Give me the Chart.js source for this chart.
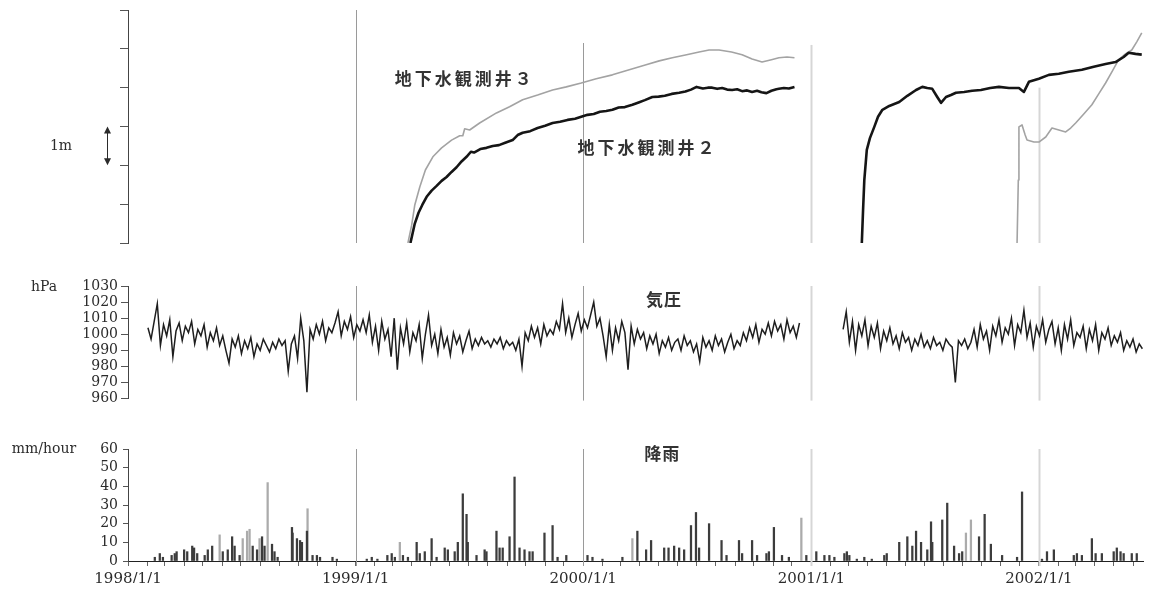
<!DOCTYPE html>
<html lang="ja">
<head>
<meta charset="utf-8">
<title>地下水位・気圧・降雨</title>
<script src="https://cdn.jsdelivr.net/npm/chart.js@4.4.1/dist/chart.umd.min.js"></script>
<style>
  html, body { margin: 0; padding: 0; background: #fff; }
  #wrap { position: relative; width: 1151px; height: 591px; overflow: hidden; }
  #wrap canvas { position: absolute; left: 0; }
</style>
</head>
<body>
<div id="wrap">
  <canvas id="well-chart" width="1151" height="255" style="top:0"></canvas>
  <canvas id="pressure-chart" width="1151" height="140" style="top:270px"></canvas>
  <canvas id="rain-chart" width="1151" height="161" style="top:430px"></canvas>
</div>
<script>
// ============================================
// DATA  (x = days since 1998/1/1)
// ============================================
const X_MIN = 0;
const X_MAX = 1628;
const yearDays = [0, 365, 730, 1096, 1461];
const yearLabels = ['1998/1/1', '1999/1/1', '2000/1/1', '2001/1/1', '2002/1/1'];

const levelTicks = [0, 1, 2, 3, 4, 5, 6];
const hpaTicks = [960, 970, 980, 990, 1000, 1010, 1020, 1030];
const rainTicks = [0, 10, 20, 30, 40, 50, 60];

// groundwater well 2 (metres above an arbitrary datum, null = no record)
const well2Days = [453, 460, 466, 472, 479, 487, 495, 503, 511, 519, 527, 535, 543, 550, 555, 565, 575, 585, 595, 605,
  617, 625, 633, 645, 657, 669, 681, 693, 705, 717, 727, 737, 747, 757, 767, 777, 787, 797, 809, 819,
  829, 841, 851, 861, 872, 884, 894, 903, 912, 922, 930, 937, 945, 953, 961, 969, 977, 985, 993, 1001,
  1009, 1016, 1024, 1032, 1040, 1044, 1052, 1060, 1069,
  1120,
  1177, 1179, 1181, 1185, 1190, 1197, 1203, 1210, 1221, 1237, 1250, 1264, 1274, 1282, 1290, 1298, 1304, 1312, 1320, 1328,
  1341, 1354, 1368, 1383, 1397, 1413, 1429, 1437, 1445, 1461, 1477, 1493, 1509, 1530, 1549, 1568, 1584, 1597, 1605, 1616, 1626];
const well2Level = [0, 0.5, 0.78, 0.98, 1.19, 1.35, 1.47, 1.6, 1.70, 1.83, 1.95, 2.1, 2.22, 2.35, 2.33, 2.42, 2.45, 2.5, 2.52, 2.58,
  2.65, 2.78, 2.84, 2.88, 2.96, 3.02, 3.09, 3.12, 3.17, 3.2, 3.25, 3.3, 3.32, 3.38, 3.4, 3.43, 3.49, 3.5, 3.56, 3.62,
  3.68, 3.76, 3.77, 3.79, 3.84, 3.87, 3.9, 3.95, 4.02, 3.98, 4.0, 4.0, 3.97, 3.99, 3.95, 3.94, 3.96, 3.91, 3.93, 3.89,
  3.92, 3.88, 3.86, 3.92, 3.96, 3.97, 3.99, 3.98, 4.02,
  null,
  0, 0.85, 1.62, 2.4, 2.7, 2.99, 3.25, 3.43, 3.53, 3.63, 3.79, 3.94, 4.02, 3.99, 3.97, 3.76, 3.61, 3.76, 3.81, 3.87,
  3.89, 3.92, 3.94, 3.99, 4.02, 3.99, 3.99, 3.89, 4.15, 4.23, 4.33, 4.36, 4.41, 4.46, 4.54, 4.61, 4.66, 4.79, 4.9, 4.87, 4.85];

// groundwater well 3
const well3Days = [449, 455, 460, 468, 477, 489, 503, 519, 532, 537, 540, 548, 564, 591, 612, 633, 657, 681, 703, 727,
  751, 777, 804, 831, 852, 873, 896, 916, 932, 948, 968, 985, 1001, 1017, 1032, 1044, 1057, 1069,
  1200,
  1426, 1428, 1429, 1434, 1439, 1442, 1453, 1461, 1472, 1482, 1493, 1504, 1512, 1520, 1533, 1546, 1557, 1568, 1579, 1589,
  1600, 1610, 1618, 1626];
const well3Level = [0, 0.46, 0.98, 1.44, 1.88, 2.22, 2.45, 2.65, 2.76, 2.76, 2.94, 2.91, 3.09, 3.35, 3.51, 3.69, 3.81, 3.94, 4.02, 4.12,
  4.23, 4.33, 4.46, 4.59, 4.69, 4.77, 4.85, 4.92, 4.97, 4.97, 4.92, 4.85, 4.74, 4.66, 4.72, 4.77, 4.79, 4.77,
  null,
  0, 1.62, 2.99, 3.04, 2.78, 2.65, 2.6, 2.6, 2.73, 2.96, 2.91, 2.86, 2.96, 3.09, 3.32, 3.56, 3.84, 4.12, 4.43, 4.72,
  4.87, 4.97, 5.18, 5.41];

// air pressure (hPa), one reading every 5 days from day 32
const pressureStart = 32;
const pressureStep = 5;
const pressureHpa = [
  1004, 997, 1008, 1019, 993, 1006, 999, 1009, 986, 1002,
  1007, 996, 1005, 1001, 1008, 994, 1003, 999, 1006, 992,
  1001, 996, 1004, 993, 999, 990, 982, 997, 992, 999,
  988, 996, 991, 998, 986, 994, 990, 997, 993, 989,
  995, 991, 997, 993, 996, 977, 994, 999, 985, 1010,
  996, 964, 1003, 997, 1006, 1000, 1008, 996, 1004, 1001,
  1007, 1014, 999, 1008, 1003, 1011, 998, 1006, 1002, 1009,
  1001, 1012, 995, 1005, 990, 1008, 997, 1003, 986, 1010,
  978, 1004, 994, 1007, 989, 1001, 996, 1006, 985, 1000,
  1012, 993, 1000, 988, 1003, 992, 998, 987, 1001, 994,
  999, 989, 996, 1002, 991, 997, 993, 998, 994, 996,
  992, 997, 994, 998, 991, 996, 993, 995, 990, 997,
  980, 1001, 996, 1005, 998, 1004, 994, 1006, 999, 1003,
  1000, 1008, 1003, 1019, 1001, 1010, 998, 1006, 1013, 1002,
  1009, 1004, 1012, 1020, 1005, 1010, 999, 986, 1006, 990,
  1004, 996, 1008, 1001, 978, 1005, 994, 1003, 997, 1001,
  991, 999, 994, 1000, 988, 996, 992, 998, 990, 995,
  997, 990, 999, 993, 996, 989, 994, 983, 998, 992,
  996, 990, 999, 993, 997, 989, 995, 1000, 991, 996,
  993, 1001, 996, 1004, 998, 1006, 995, 1003, 1000, 1007,
  999, 1008, 1002, 1006, 997, 1009, 1001, 1005, 998, 1007,
  null, null, null, null, null, null, null, null, null, null,
  null, null, null, 1003, 1014, 995, 1008, 990, 1006, 999,
  1009, 993, 1005, 998, 1007, 991, 1002, 996, 1004, 994,
  999, 991, 1001, 995, 998, 990, 997, 993, 1000, 992,
  996, 991, 998, 993, 995, 990, 997, 994, 992, 970,
  996, 993, 997, 991, 995, 1003, 992, 1006, 997, 1002,
  990, 1005, 999, 1009, 995, 1004, 1000, 1010, 993, 1006,
  1001, 1015, 998, 1007, 992, 1005, 999, 1009, 995, 1003,
  1008, 994, 1004, 990, 1006, 997, 1009, 993, 1001, 998,
  1005, 991, 1003, 996, 1006, 990, 1001, 997, 1004, 993,
  999, 995, 1001, 990, 996, 992, 997, 989, 994, 991
];

// rainfall (mm/hour) — dark bars
const rainDays = [43, 51, 56, 70, 75, 78, 90, 95, 103, 106, 111, 123, 128, 135, 152, 160, 167, 171, 179, 200,
  207, 215, 219, 231, 235, 240, 263, 264, 271, 276, 279, 287, 296, 303, 308, 328, 335,
  383, 391, 400, 416, 423, 428, 441, 449, 463, 468, 476, 487, 495, 508, 513, 524, 529, 537, 543, 545,
  559, 572, 575, 591, 596, 601, 612, 620, 628, 636, 644, 649, 668, 681, 689, 703,
  737, 745, 761, 793, 817, 831, 839, 860, 867, 876, 884, 892, 903, 911, 916, 932, 952, 960, 980, 985,
  1001, 1009, 1024, 1028, 1036, 1049, 1060, 1088,
  1104, 1117, 1125, 1133, 1149, 1153, 1157, 1169, 1181, 1193, 1213, 1217, 1237, 1250, 1258, 1264, 1272, 1282, 1288, 1290,
  1306, 1314, 1325, 1333, 1338, 1365, 1374, 1384, 1402, 1426, 1434,
  1466, 1474, 1485, 1517, 1522, 1530, 1546, 1552, 1562, 1581, 1586, 1592, 1597, 1610, 1618];
const rainMm = [2, 4, 2, 3, 4, 5, 6, 5, 8, 7, 4, 3, 6, 8, 5, 6, 13, 8, 3, 8,
  6, 13, 8, 9, 5, 2, 18, 15, 12, 11, 10, 16, 3, 3, 2, 2, 1,
  1, 2, 1, 3, 4, 2, 3, 2, 10, 4, 5, 12, 2, 7, 6, 5, 10, 36, 25, 10,
  3, 6, 5, 16, 7, 7, 13, 45, 7, 6, 5, 5, 15, 19, 2, 3,
  3, 2, 1, 2, 16, 6, 11, 7, 7, 8, 7, 6, 19, 26, 7, 20, 11, 3, 11, 4,
  11, 3, 4, 5, 18, 3, 2, 3,
  5, 3, 3, 2, 4, 5, 3, 1, 2, 1, 3, 4, 10, 13, 8, 16, 10, 6, 21, 10,
  22, 31, 8, 4, 5, 13, 25, 9, 3, 2, 37,
  1, 5, 6, 3, 4, 3, 12, 4, 4, 5, 7, 5, 4, 4, 4];

// rainfall — light bars
const rainLightDays = [147, 184, 191, 195, 211, 224, 288, 436, 809, 1080, 1344, 1352];
const rainLightMm = [14, 12, 16, 17, 12, 42, 28, 10, 12, 23, 15, 22];

// ============================================
// HELPERS
// ============================================
const SERIF = 'DejaVu Serif';
const CJK = '"Noto Sans CJK JP"';
const INK = '#2b2b2b';

const monthTicks = [];
for (let y = 1998; y <= 2002; y++) {
  for (let m = 0; m < 12; m++) {
    const d = (Date.UTC(y, m, 1) - Date.UTC(1998, 0, 1)) / 86400000;
    if (d <= X_MAX) monthTicks.push(d);
  }
}

function pairs(xs, ys) {
  return xs.map((x, i) => ({ x: x, y: ys[i] }));
}

function fixedTicks(list) {
  return scale => { scale.ticks = list.map(v => ({ value: v })); };
}

function hiddenX() {
  return { type: 'linear', display: false, min: X_MIN, max: X_MAX, offset: false };
}

function leftAxis(min, max, list, showLabels, tickLen, pad) {
  return {
    min: min, max: max,
    afterBuildTicks: fixedTicks(list),
    afterFit: s => { s.width = 128; },
    grid: { drawOnChartArea: false, drawTicks: true, tickLength: tickLen, color: '#555' },
    border: { color: '#444', width: 1 },
    ticks: {
      display: showLabels, autoSkip: false, padding: pad, color: INK,
      font: { family: SERIF, size: 14 },
      callback: v => String(v)
    }
  };
}

// vertical grey lines at each new year, drawn behind the data
const yearLines = {
  id: 'yearLines',
  beforeDatasetsDraw(chart, args, opts) {
    const { ctx, chartArea, scales } = chart;
    ctx.save();
    yearDays.slice(1).forEach((d, i) => {
      const x = Math.round(scales.x.getPixelForValue(d)) + 0.5;
      const top = opts.tops ? scales.y.getPixelForValue(opts.tops[i]) : chartArea.top;
      ctx.beginPath();
      ctx.strokeStyle = i < 2 ? '#9a9a9a' : '#d6d6d6';
      ctx.lineWidth = i < 2 ? 1 : 2;
      ctx.moveTo(x, top);
      ctx.lineTo(x, chartArea.bottom + (opts.below || 0));
      ctx.stroke();
    });
    ctx.restore();
  }
};

// free text: {text, x, y} in data units or {text, px, py} in canvas pixels
const notes = {
  id: 'notes',
  afterDraw(chart, args, opts) {
    const { ctx, scales } = chart;
    ctx.save();
    (opts.items || []).forEach(n => {
      const x = n.px !== undefined ? n.px : scales.x.getPixelForValue(n.x);
      const y = n.py !== undefined ? n.py : scales.y.getPixelForValue(n.y);
      ctx.font = n.font;
      ctx.fillStyle = n.color || INK;
      ctx.textAlign = n.align || 'left';
      ctx.textBaseline = 'middle';
      ctx.letterSpacing = n.spacing || '0px';
      ctx.fillText(n.text, x, y);
    });
    if (opts.arrow) {
      const a = opts.arrow;
      const y1 = scales.y.getPixelForValue(a.from);
      const y2 = scales.y.getPixelForValue(a.to);
      ctx.strokeStyle = INK;
      ctx.fillStyle = INK;
      ctx.lineWidth = 1;
      ctx.beginPath();
      ctx.moveTo(a.px + 0.5, y1 + 4);
      ctx.lineTo(a.px + 0.5, y2 - 4);
      ctx.stroke();
      [[y1, 1], [y2, -1]].forEach(([y, dir]) => {
        ctx.beginPath();
        ctx.moveTo(a.px + 0.5, y);
        ctx.lineTo(a.px - 3, y + dir * 7);
        ctx.lineTo(a.px + 4, y + dir * 7);
        ctx.closePath();
        ctx.fill();
      });
    }
    ctx.restore();
  }
};

const common = {
  responsive: false,
  animation: false,
  devicePixelRatio: 1,
  events: [],
  plugins: { legend: { display: false }, tooltip: { enabled: false } }
};

const CJK_FONT = 'bold 17px ' + CJK;

// ============================================
// CHARTS
// ============================================
new Chart(document.getElementById('well-chart'), {
  type: 'line',
  data: {
    datasets: [
      { data: pairs(well2Days, well2Level), borderColor: '#151515', borderWidth: 2.6 },
      { data: pairs(well3Days, well3Level), borderColor: '#a3a3a3', borderWidth: 1.6 }
    ].map(ds => Object.assign(ds, { pointRadius: 0, tension: 0, spanGaps: false, borderJoinStyle: 'round' }))
  },
  options: Object.assign({}, common, {
    layout: { padding: { top: 10, bottom: 12, left: 0, right: 8 } },
    scales: {
      x: hiddenX(),
      y: leftAxis(0, 6, levelTicks, false, 8, 0)
    },
    plugins: Object.assign({}, common.plugins, {
      yearLines: { tops: [6, 5.15, 5.1, 4.0] },
      notes: {
        items: [
          { text: '地下水観測井３', x: 428, y: 4.23, font: CJK_FONT, spacing: '3px', color: '#333' },
          { text: '地下水観測井２', x: 721, y: 2.47, font: CJK_FONT, spacing: '3px', color: '#333' },
          { text: '1m', px: 61, y: 2.5, font: '14px ' + SERIF, align: 'center' }
        ],
        arrow: { px: 107, from: 3, to: 2 }
      }
    })
  }),
  plugins: [yearLines, notes]
});

new Chart(document.getElementById('pressure-chart'), {
  type: 'line',
  data: {
    datasets: [{
      data: pressureHpa.map((v, i) => ({ x: pressureStart + i * pressureStep, y: v })),
      borderColor: '#1e1e1e', borderWidth: 1.5, pointRadius: 0, tension: 0, spanGaps: false
    }]
  },
  options: Object.assign({}, common, {
    layout: { padding: { top: 16, bottom: 10, left: 0, right: 8 } },
    scales: {
      x: hiddenX(),
      y: leftAxis(960, 1030, hpaTicks, true, 7, 3)
    },
    plugins: Object.assign({}, common.plugins, {
      yearLines: { below: 2 },
      notes: {
        items: [
          { text: '気圧', x: 831, y: 1021.4, font: CJK_FONT, spacing: '1px', color: '#333' },
          { text: 'hPa', px: 44, py: 17, font: '14px ' + SERIF, align: 'center' }
        ]
      }
    })
  }),
  plugins: [yearLines, notes]
});

new Chart(document.getElementById('rain-chart'), {
  type: 'bar',
  data: {
    datasets: [
      { data: pairs(rainDays, rainMm), backgroundColor: '#3c3c3c' },
      { data: pairs(rainLightDays, rainLightMm), backgroundColor: '#ababab' }
    ].map(ds => Object.assign(ds, { barThickness: 1.6, grouped: false, borderWidth: 0 }))
  },
  options: Object.assign({}, common, {
    layout: { padding: { top: 19, bottom: 8, left: 0, right: 8 } },
    scales: {
      x: {
        type: 'linear', min: X_MIN, max: X_MAX, offset: false,
        afterBuildTicks: fixedTicks(monthTicks),
        afterFit: s => { s.height = 22; },
        grid: { drawOnChartArea: false, drawTicks: true, tickLength: 5, color: '#666', offset: false },
        border: { color: '#222', width: 1 },
        ticks: {
          autoSkip: false, maxRotation: 0, padding: 4, color: INK,
          font: { family: SERIF, size: 15 },
          callback: v => {
            const i = yearDays.indexOf(v);
            return i >= 0 ? yearLabels[i] : '';
          }
        }
      },
      y: leftAxis(0, 60, rainTicks, true, 5, 5)
    },
    plugins: Object.assign({}, common.plugins, {
      yearLines: { below: 5 },
      notes: {
        items: [
          { text: '降雨', x: 828, y: 57.8, font: CJK_FONT, spacing: '1px', color: '#333' },
          { text: 'mm/hour', px: 44, py: 19, font: '14px ' + SERIF, align: 'center' }
        ]
      }
    })
  }),
  plugins: [yearLines, notes]
});

console.log('charts drawn');
</script>
</body>
</html>
